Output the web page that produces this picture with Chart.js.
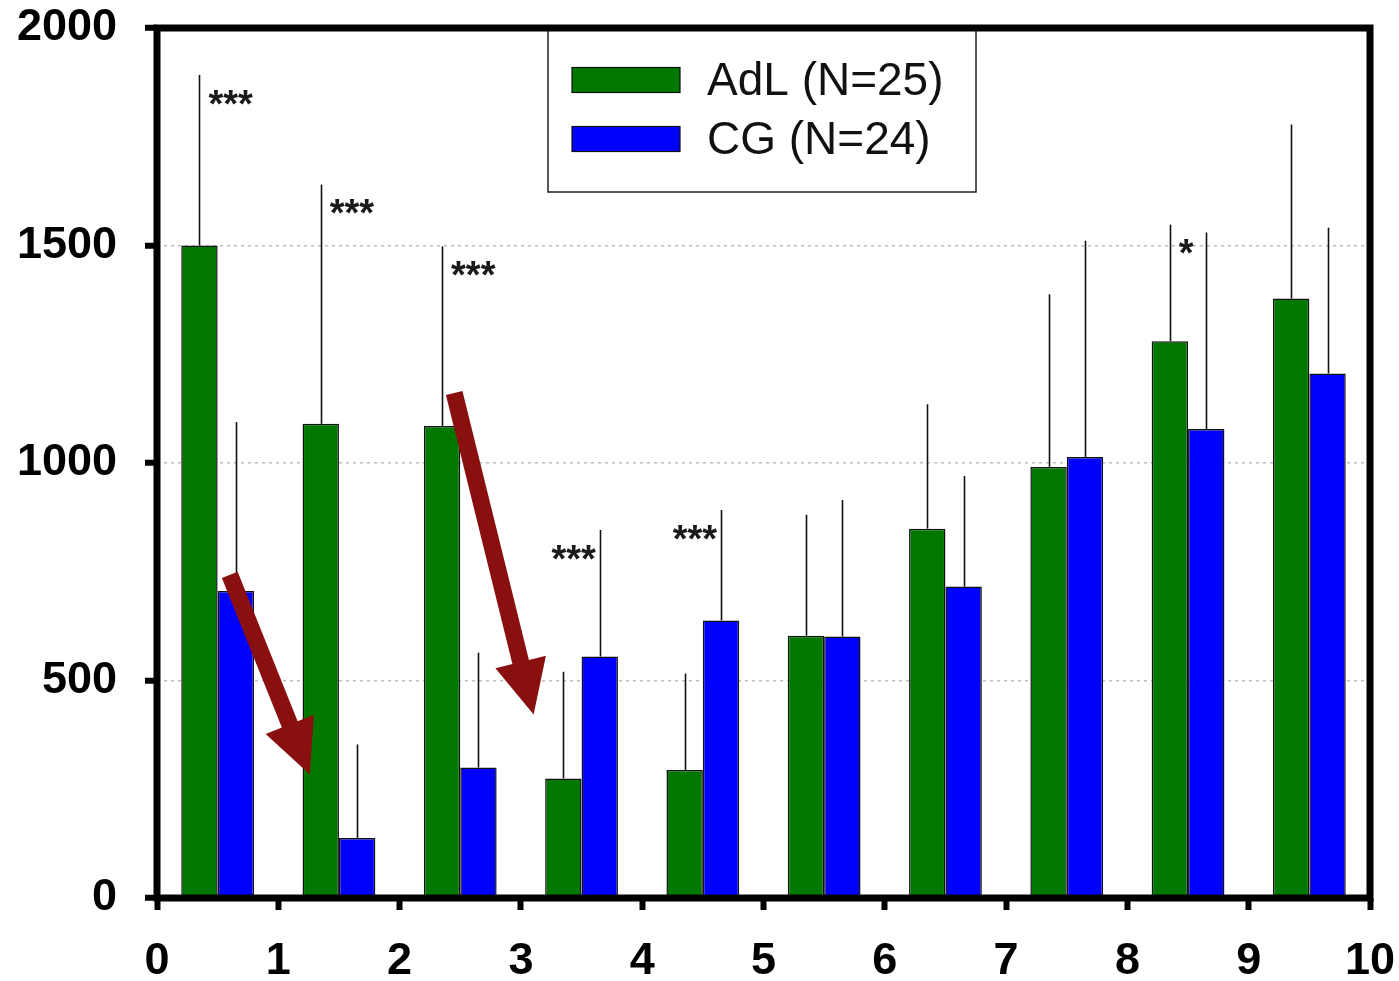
<!DOCTYPE html>
<html><head><meta charset="utf-8">
<script src="https://cdn.jsdelivr.net/npm/chart.js@4.4.0/dist/chart.umd.min.js"></script>
<style>html,body{margin:0;padding:0;background:#fff;}canvas{display:block;}</style>
</head><body>
<canvas id="c" width="1399" height="981"></canvas>
<script>
// ---- data ----
const groups = ['1','2','3','4','5','6','7','8','9','10'];
const adlMean = [1500, 1090, 1085, 275, 294, 603, 849, 991, 1280, 1378];
const adlSD   = [ 392,  550,  413, 245, 222, 278, 286, 397,  268,  400];
const cgMean  = [ 706,  138,  300, 555, 638, 601, 716, 1014, 1078, 1206];
const cgSD    = [ 388,  215,  264, 291, 254, 314, 254,  497,  452,  335];
const significance = ['***','***','***','***','***','','','','*',''];
const xTickValues = [0,1,2,3,4,5,6,7,8,9,10];
const yTickValues = [0,500,1000,1500,2000];
// annotation arrows (data units on the 0-10 axis / value axis)
const arrowTails = [[0.60, 743], [2.45, 1161]];
const arrowTips  = [[1.26, 284], [3.105, 422]];

const FONT = '"Liberation Sans", Arial, sans-serif';

const overlay = {
  id: 'overlay',
  afterDatasetsDraw(chart) {
    const ctx = chart.ctx;
    const ys = chart.scales.y, xl = chart.scales.xl;
    const ca = chart.chartArea;
    ctx.save();
    // error bars (upper only)
    const metas = [chart.getDatasetMeta(0), chart.getDatasetMeta(1)];
    const sds = [adlSD, cgSD];
    const means = [adlMean, cgMean];
    ctx.strokeStyle = '#111';
    ctx.lineWidth = 1.6;
    metas.forEach((m, di) => {
      m.data.forEach((el, i) => {
        const yTop = ys.getPixelForValue(means[di][i] + sds[di][i]);
        ctx.beginPath();
        ctx.moveTo(Math.round(el.x) + 0.5, el.y);
        ctx.lineTo(Math.round(el.x) + 0.5, yTop);
        ctx.stroke();
      });
    });
    // significance marks
    ctx.fillStyle = '#1a1a1a';
    const fs = 38;
    ctx.font = 'bold ' + fs + 'px ' + FONT;
    ctx.textBaseline = 'alphabetic';
    ctx.textAlign = 'left';
    significance.forEach((s, i) => {
      if (!s) return;
      const gTop = adlMean[i] + adlSD[i], bTop = cgMean[i] + cgSD[i];
      const w = ctx.measureText(s).width;
      let left, yPx;
      if (gTop >= bTop) {
        left = metas[0].data[i].x + 9;
        yPx = ys.getPixelForValue(gTop);
      } else {
        left = metas[1].data[i].x - 4 - w;
        yPx = ys.getPixelForValue(bTop);
      }
      ctx.fillText(s, left, yPx + 20 + 0.57 * fs);
    });
    // arrows
    ctx.fillStyle = '#8a1010';
    arrowTails.forEach((t, k) => {
      const tip = arrowTips[k];
      const x0 = xl.getPixelForValue(t[0]), y0 = ys.getPixelForValue(t[1]);
      const x1 = xl.getPixelForValue(tip[0]), y1 = ys.getPixelForValue(tip[1]);
      const dx = x1 - x0, dy = y1 - y0, L = Math.hypot(dx, dy);
      const ux = dx / L, uy = dy / L, nx = -uy, ny = ux;
      const sw = 17 / 2, hw = 52 / 2, hl = 54;
      const bx = x1 - ux * hl, by = y1 - uy * hl;
      ctx.beginPath();
      ctx.moveTo(x0 + nx * sw, y0 + ny * sw);
      ctx.lineTo(bx + nx * sw, by + ny * sw);
      ctx.lineTo(bx + nx * hw, by + ny * hw);
      ctx.lineTo(x1, y1);
      ctx.lineTo(bx - nx * hw, by - ny * hw);
      ctx.lineTo(bx - nx * sw, by - ny * sw);
      ctx.lineTo(x0 - nx * sw, y0 - ny * sw);
      ctx.closePath();
      ctx.fill();
    });
    // legend box
    const lx = ca.left + 391, ly = ca.top + 2, lw = 428, lh = 162;
    ctx.fillStyle = '#fff';
    ctx.fillRect(lx, ly, lw, lh);
    ctx.strokeStyle = '#222';
    ctx.lineWidth = 1.5;
    ctx.strokeRect(lx, ly, lw, lh);
    const ds = chart.data.datasets;
    const rows = [ly + 50, ly + 109];
    ctx.font = '46px ' + FONT;
    ctx.textBaseline = 'middle';
    ctx.textAlign = 'left';
    ds.forEach((d, i) => {
      ctx.fillStyle = d.backgroundColor;
      ctx.fillRect(lx + 24, rows[i] - 12.5, 108, 25);
      ctx.strokeStyle = '#111';
      ctx.lineWidth = 1.2;
      ctx.strokeRect(lx + 24, rows[i] - 12.5, 108, 25);
      ctx.fillStyle = '#111';
      ctx.fillText(d.label, lx + 159, rows[i] + 2);
    });
    // frame
    ctx.strokeStyle = '#000';
    ctx.lineWidth = 7;
    ctx.strokeRect(ca.left, ca.top, ca.right - ca.left, ca.bottom - ca.top);
    ctx.restore();
  }
};

new Chart(document.getElementById('c').getContext('2d'), {
  type: 'bar',
  data: {
    labels: groups,
    datasets: [
      { label: 'AdL (N=25)', data: adlMean, backgroundColor: '#007800', borderColor: '#111', borderWidth: 1.5, xAxisID: 'x', yAxisID: 'y' },
      { label: 'CG (N=24)',  data: cgMean,  backgroundColor: '#0000ff', borderColor: '#111', borderWidth: 1.5, xAxisID: 'x', yAxisID: 'y' }
    ]
  },
  options: {
    responsive: false,
    animation: false,
    devicePixelRatio: 1,
    layout: { padding: { top: 28, right: 29, left: 0, bottom: 0 } },
    plugins: { legend: { display: false }, tooltip: { enabled: false } },
    datasets: { bar: { categoryPercentage: 0.6, barPercentage: 1.0 } },
    scales: {
      x: { type: 'category', display: false, offset: true, grid: { display: false } },
      xl: {
        type: 'linear', position: 'bottom', min: 0, max: 10, offset: false,
        afterBuildTicks: s => { s.ticks = xTickValues.map(v => ({ value: v })); },
        ticks: { font: { family: FONT, size: 45, weight: 'bold' }, color: '#000', padding: 25, maxRotation: 0, autoSkip: false, callback: v => String(v) },
        grid: { offset: false, drawOnChartArea: false, drawTicks: true, tickLength: 12, tickWidth: 6, tickColor: '#000', color: 'rgba(0,0,0,0)' },
        border: { display: false },
        afterFit: s => { s.height = 83; s.paddingLeft = 0; s.paddingRight = 0; }
      },
      y: {
        type: 'linear', position: 'left', min: 0, max: 2000,
        afterBuildTicks: s => { s.ticks = yTickValues.map(v => ({ value: v })); },
        ticks: { font: { family: FONT, size: 45, weight: 'bold' }, color: '#000', padding: 28, callback: v => String(v) },
        grid: {
          color: c => (c.tick && c.tick.value > 0 && c.tick.value < 2000) ? '#bdbdbd' : 'rgba(0,0,0,0)',
          lineWidth: 1.5, tickLength: 12, tickWidth: 6, tickColor: '#000'
        },
        border: { display: false, dash: [3, 4] },
        afterFit: s => { s.width = 157; s.paddingTop = 0; s.paddingBottom = 0; }
      }
    }
  },
  plugins: [overlay]
});
</script>
</body></html>
